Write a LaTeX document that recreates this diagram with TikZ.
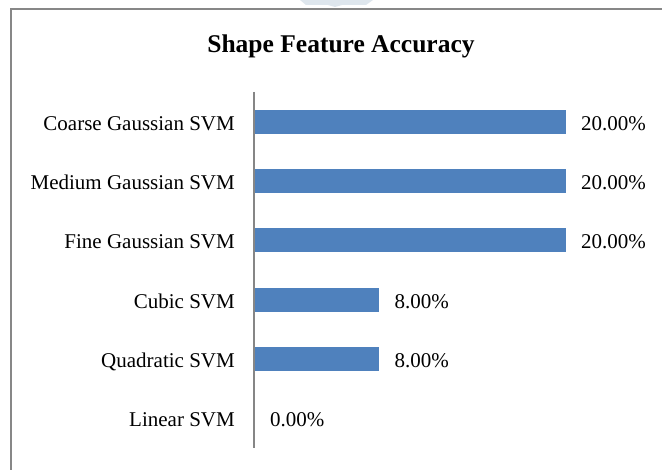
\documentclass[tikz,border=0pt]{standalone}
\usepackage{fontspec}
\setmainfont{Liberation Serif}
\definecolor{barblue}{HTML}{4F81BD}
\definecolor{framegrey}{HTML}{878787}
\definecolor{axisgrey}{HTML}{868686}
\definecolor{wmark}{HTML}{DEE6ED}
\begin{document}
\begin{tikzpicture}[x=1bp,y=-1bp,
  bar/.style={fill=barblue},
  catlabel/.style={anchor=base east,inner sep=0pt,font=\fontsize{21bp}{25bp}\selectfont},
  vallabel/.style={anchor=base west,inner sep=0pt,font=\fontsize{21bp}{25bp}\selectfont},
  titlelabel/.style={anchor=base,inner sep=0pt,font=\fontsize{25.5bp}{30bp}\selectfont\bfseries}]
\useasboundingbox (0,0) rectangle (662,470);
\clip (0,0) rectangle (662,470);
\fill[white] (0,0) rectangle (662,470);
% watermark fragment
\fill[wmark] (300,0) -- (373,0) -- (366,5) -- (342,5) -- (335,7) -- (328,5) -- (306,5) -- cycle;
% frame
\draw[framegrey,line width=2bp] (11,480) -- (11,9.5) -- (680,9.5);
% title
\node[titlelabel] (title) at (341,53) {Shape Feature Accuracy};
% axis
\coordinate (axtop) at (254,92);
\coordinate (axbot) at (254,448);
\draw[axisgrey,line width=1.6bp] (axtop) -- (axbot);
% bars
\def\scl{15.55}
\foreach \i/\name/\v/\txt in {0/Coarse Gaussian SVM/20/20.00\%,1/Medium Gaussian SVM/20/20.00\%,2/Fine Gaussian SVM/20/20.00\%,3/Cubic SVM/8/8.00\%,4/Quadratic SVM/8/8.00\%,5/Linear SVM/0/0.00\%}{
  \pgfmathsetmacro{\yc}{121.7+59.33*\i}
  \pgfmathsetmacro{\xe}{255+\scl*\v}
  \ifdim\v pt>0pt
    \fill[bar] (255,\yc-12) rectangle (\xe,\yc+12);
  \fi
  \node[catlabel] (cat\i) at (235,\yc+8.5) {\name};
  \node[vallabel] (val\i) at (\xe+15,\yc+8.5) {\txt};
}
\end{tikzpicture}
\end{document}
